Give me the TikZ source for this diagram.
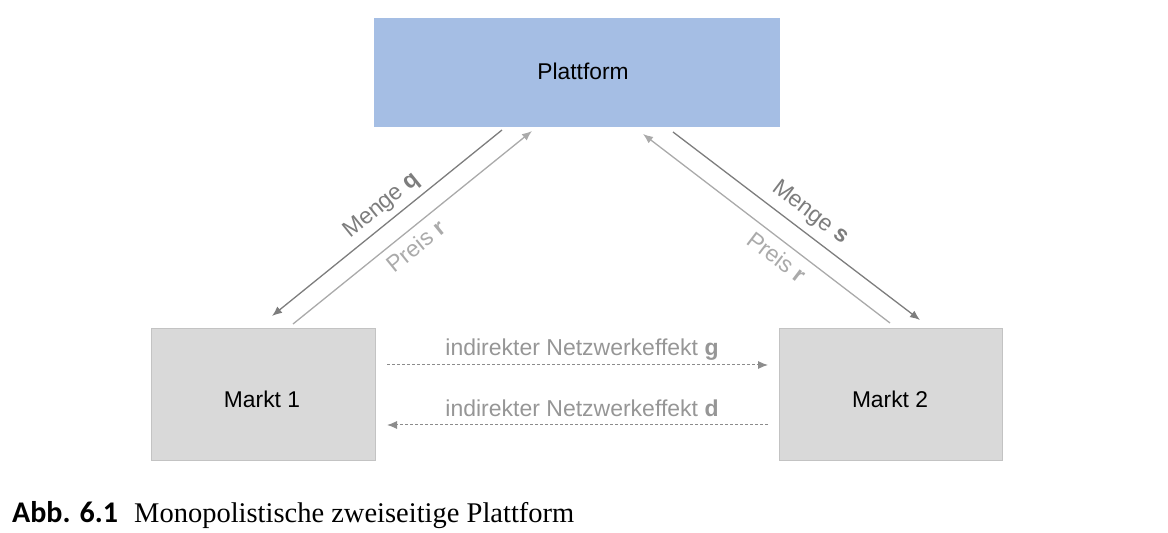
\documentclass[tikz,border=0pt]{standalone}
\usepackage{fontspec}
\setmainfont{Liberation Sans}
\newfontfamily\capserif{Liberation Serif}
\newfontfamily\capsans{Carlito}
\usetikzlibrary{arrows.meta}
\definecolor{platblue}{RGB}{165,190,228}
\definecolor{boxgray}{RGB}{217,217,217}
\definecolor{boxedge}{RGB}{195,195,195}
\definecolor{darkarr}{RGB}{125,125,125}
\definecolor{lightarr}{RGB}{170,170,170}
\definecolor{dasharr}{RGB}{140,140,140}
\definecolor{labgray}{RGB}{150,150,150}
\tikzset{
  boxtext/.style={font=\fontsize{22.8}{27}\selectfont, text=black},
  arrtip/.style={-{Latex[length=10pt,width=8pt]}},
  darkline/.style={arrtip, draw=darkarr, line width=1.3pt},
  lightline/.style={arrtip, draw=lightarr, line width=1.3pt},
  dashline/.style={arrtip, draw=dasharr, line width=1pt, dash pattern=on 3pt off 2pt},
  arrlabel/.style={font=\fontsize{23}{27}\selectfont, inner sep=0pt},
}
\begin{document}
\begin{tikzpicture}[x=1pt,y=1pt]
\useasboundingbox (0,0) rectangle (1168,533);
% boxes
\fill[platblue] (374,406) rectangle (780,515);
\node[boxtext] (plat) at (583,462) {Plattform};
\filldraw[fill=boxgray, draw=boxedge, line width=0.8pt] (151,73) rectangle (375,205);
\node[boxtext] (m1) at (262,134) {Markt 1};
\filldraw[fill=boxgray, draw=boxedge, line width=0.8pt] (779,73) rectangle (1002,205);
\node[boxtext] (m2) at (890,134) {Markt 2};
% coordinates
\coordinate (mqs) at (502,403);
\coordinate (mqe) at (272,217);
\coordinate (prls) at (293,209);
\coordinate (prle) at (532,402);
\coordinate (mss) at (673,401);
\coordinate (mse) at (920,213);
\coordinate (prrs) at (890,210);
\coordinate (prre) at (643,399);
\coordinate (gs) at (387,168);
\coordinate (ge) at (768,168);
\coordinate (ds) at (768,108);
\coordinate (de) at (387,108);
% arrows
\draw[darkline] (mqs) -- (mqe);
\draw[lightline] (prls) -- (prle);
\draw[darkline] (mss) -- (mse);
\draw[lightline] (prrs) -- (prre);
\draw[dashline] (gs) -- (ge);
\draw[dashline] (ds) -- (de);
% labels
\node[arrlabel, text=darkarr, rotate=39] (lmq) at (382,327) {Menge \textbf{q}};
\node[arrlabel, text=lightarr, rotate=39] (lpl) at (416,287) {Preis \textbf{r}};
\node[arrlabel, text=darkarr, rotate=-37.3] (lms) at (810,320) {Menge \textbf{s}};
\node[arrlabel, text=lightarr, rotate=-37.3] (lpr) at (777,276) {Preis \textbf{r}};
\node[arrlabel, text=labgray] (lg) at (582,183) {indirekter Netzwerkeffekt \textbf{g}};
\node[arrlabel, text=labgray] (ld) at (582,125) {indirekter Netzwerkeffekt \textbf{d}};
% caption
\node[anchor=base west, inner sep=0pt, font=\capsans\bfseries\fontsize{30}{34}\selectfont] (cap1) at (12,10) {Abb. 6.1};
\node[anchor=base west, inner sep=0pt, font=\capserif\fontsize{28.5}{33}\selectfont] (cap2) at (134,10) {Monopolistische zweiseitige Plattform};
\end{tikzpicture}
\end{document}
